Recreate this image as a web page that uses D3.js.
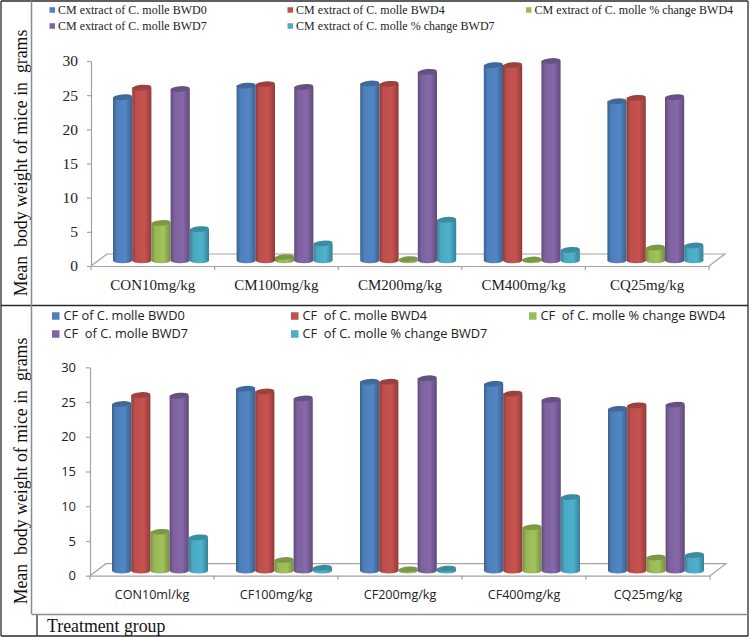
<!DOCTYPE html>
<html>
<head>
<meta charset="utf-8">
<script src="https://cdn.jsdelivr.net/npm/d3@7"></script>
<style>
body { margin: 0; background: #fff; }
svg { display: block; }
</style>
</head>
<body>
<svg id="chart" width="750" height="637"></svg>
<script>
var topCategories = ["CON10mg/kg", "CM100mg/kg", "CM200mg/kg", "CM400mg/kg", "CQ25mg/kg"];
var bottomCategories = ["CON10ml/kg", "CF100mg/kg", "CF200mg/kg", "CF400mg/kg", "CQ25mg/kg"];
var yTicks = [0, 5, 10, 15, 20, 25, 30];

var topNames = ["CM extract of C. molle BWD0", "CM extract of C. molle BWD4", "CM extract of C. molle % change BWD4",
                "CM extract of C. molle BWD7", "CM extract of C. molle % change BWD7"];
var topBwd0 = [23.9, 25.6, 25.9, 28.6, 23.3];
var topBwd4 = [25.3, 25.8, 25.85, 28.6, 23.8];
var topChange4 = [5.5, 0.5, 0.2, 0.15, 1.9];
var topBwd7 = [25.1, 25.4, 27.6, 29.2, 23.9];
var topChange7 = [4.6, 2.5, 5.96, 1.55, 2.2];

var bottomNames = ["CF of C. molle BWD0", "CF  of C. molle BWD4", "CF  of C. molle % change BWD4",
                   "CF  of C. molle BWD7", "CF  of C. molle % change BWD7"];
var bottomBwd0 = [24, 26.2, 27.2, 26.9, 23.3];
var bottomBwd4 = [25.3, 25.8, 27.2, 25.5, 23.8];
var bottomChange4 = [5.6, 1.54, 0.2, 6.25, 1.9];
var bottomBwd7 = [25.2, 24.8, 27.7, 24.6, 23.9];
var bottomChange7 = [4.8, 0.43, 0.3, 10.6, 2.26];

var colors = ["#4f81bd", "#c0504d", "#9bbb59", "#8064a2", "#4bacc6"];

var SERIF = '"Liberation Serif", serif';
var SANS = '"Open Sans", sans-serif';

var svg = d3.select("#chart");
var defs = svg.append("defs");

//One horizontal gradient per series to get the cylinder look
colors.forEach(function(c, i) {
    var g = defs.append("linearGradient").attr("id", "cyl" + i);
    g.append("stop").attr("offset", "0%").attr("stop-color", d3.color(c).darker(0.8));
    g.append("stop").attr("offset", "20%").attr("stop-color", d3.color(c).darker(0.05));
    g.append("stop").attr("offset", "65%").attr("stop-color", d3.color(c).brighter(0.1));
    g.append("stop").attr("offset", "100%").attr("stop-color", d3.color(c).darker(0.8));
});

//Draw one of the two panels
function drawPanel(p) {
    var g = svg.append("g").style("font-family", p.font);

    var x = d3.scaleBand().domain(p.categories).range([p.left, p.right]);
    var y = d3.scaleLinear().domain([0, 30]).range([p.bottom, p.top]);
    var inner = d3.scaleBand().domain(d3.range(5)).range([22, 118]);

    //Floor of the 3D plot
    g.append("path")
        .attr("d", d3.line()([[p.left, p.bottom], [p.left + 16, p.bottom - 12], [p.right + 16, p.bottom - 12], [p.right, p.bottom]]))
        .attr("fill", "none").attr("stroke", "#a3a3a3").attr("stroke-width", 1.2);

    //Axes
    var yAxis = g.append("g").attr("transform", "translate(" + p.left + ",0)")
        .call(d3.axisLeft(y).tickValues(yTicks).tickSize(4).tickPadding(p.yPad).tickSizeOuter(0));
    yAxis.selectAll("text").style("font-family", p.font).attr("font-size", p.tickSize).attr("fill", "#222");
    var xAxis = g.append("g").attr("transform", "translate(0," + p.bottom + ")")
        .call(d3.axisBottom(x).tickSize(0).tickPadding(p.xPad));
    xAxis.selectAll("text").style("font-family", p.font).attr("font-size", p.catSize).attr("fill", "#222");
    g.selectAll("path.domain, .tick line").attr("stroke", "#a3a3a3").attr("stroke-width", 1.2);

    g.selectAll("line.catTick").data(p.categories.concat(["end"])).enter().append("line")
        .attr("class", "catTick")
        .attr("x1", function(d, i) { return p.left + i * x.step(); })
        .attr("x2", function(d, i) { return p.left + i * x.step(); })
        .attr("y1", p.bottom).attr("y2", p.bottom + 4)
        .attr("stroke", "#a3a3a3").attr("stroke-width", 1.2);

    //Bars
    var rx = inner.bandwidth() / 2, ry = 2.8;
    p.series.forEach(function(values, s) {
        values.forEach(function(v, c) {
            var x0 = x(p.categories[c]) + inner(s);
            var yBase = y(0) - p.lift;
            var yTop = y(v) - p.lift;
            var cx = x0 + rx;
            g.append("path")
                .attr("d", "M" + x0 + "," + yTop + "L" + x0 + "," + yBase +
                           "A" + rx + "," + ry + " 0 0 0 " + (x0 + 2 * rx) + "," + yBase +
                           "L" + (x0 + 2 * rx) + "," + yTop + "Z")
                .attr("fill", "url(#cyl" + s + ")");
            g.append("ellipse")
                .attr("cx", cx).attr("cy", yTop).attr("rx", rx).attr("ry", ry)
                .attr("fill", d3.color(colors[s]).darker(0.6))
                .attr("transform", "rotate(-5 " + cx + " " + yTop + ")");
        });
    });

    //Legend
    p.names.forEach(function(name, i) {
        var col = i < 3 ? i : i - 3;
        var row = i < 3 ? 0 : 1;
        g.append("rect")
            .attr("x", p.legendX[col]).attr("y", p.legendY[row] - p.legendBox / 2)
            .attr("width", p.legendBox).attr("height", p.legendBox)
            .attr("fill", colors[i]);
        g.append("text")
            .attr("x", p.legendX[col] + p.legendBox + p.legendGap).attr("y", p.legendY[row])
            .attr("dy", "0.34em")
            .attr("font-size", p.legendSize)
            .attr("fill", "#222")
            .style("white-space", "pre")
            .text(name);
    });

    //Y title
    g.append("text")
        .style("font-family", SERIF)
        .attr("transform", "translate(" + p.titleX + "," + p.titleY + ") rotate(-90)")
        .attr("text-anchor", "middle")
        .attr("font-size", 17.8)
        .attr("fill", "#111")
        .style("white-space", "pre")
        .text("Mean  body weight of mice in  grams");
}

drawPanel({
    font: SERIF, categories: topCategories, names: topNames,
    series: [topBwd0, topBwd4, topChange4, topBwd7, topChange7],
    left: 91, right: 709, top: 61, bottom: 266, lift: 5.5,
    yPad: 9, xPad: 13, tickSize: 15.5, catSize: 15,
    legendX: [49.5, 287.5, 526], legendY: [10, 26], legendBox: 5.5, legendGap: 3, legendSize: 12,
    titleX: 27, titleY: 163
});

drawPanel({
    font: SANS, categories: bottomCategories, names: bottomNames,
    series: [bottomBwd0, bottomBwd4, bottomChange4, bottomBwd7, bottomChange7],
    left: 90, right: 710, top: 367.3, bottom: 575.7, lift: 5,
    yPad: 10, xPad: 14, tickSize: 13, catSize: 12.6,
    legendX: [52, 291, 529], legendY: [316, 334], legendBox: 7.5, legendGap: 4, legendSize: 12.8,
    titleX: 27, titleY: 471
});

//Table lines around the panels
var darkLines = [[1, 1, 748, 1], [1, 1, 1, 636], [748, 1, 748, 636], [1, 636, 748, 636], [1, 305.5, 748, 305.5], [37, 615, 37, 636]];
var greyLines = [[31.5, 1, 31.5, 614], [31.5, 614.5, 748, 614.5]];
svg.selectAll("line.dark").data(darkLines).enter().append("line").attr("class", "dark")
    .attr("x1", function(d) { return d[0]; }).attr("y1", function(d) { return d[1]; })
    .attr("x2", function(d) { return d[2]; }).attr("y2", function(d) { return d[3]; })
    .attr("stroke", "#2a2a2a").attr("stroke-width", 1.3);
svg.selectAll("line.grey").data(greyLines).enter().append("line").attr("class", "grey")
    .attr("x1", function(d) { return d[0]; }).attr("y1", function(d) { return d[1]; })
    .attr("x2", function(d) { return d[2]; }).attr("y2", function(d) { return d[3]; })
    .attr("stroke", "#8c8c8c").attr("stroke-width", 1.5);

svg.append("text")
    .style("font-family", SERIF)
    .attr("x", 47).attr("y", 632)
    .attr("font-size", 17.8)
    .attr("fill", "#111")
    .text("Treatment group");
</script>
</body>
</html>
